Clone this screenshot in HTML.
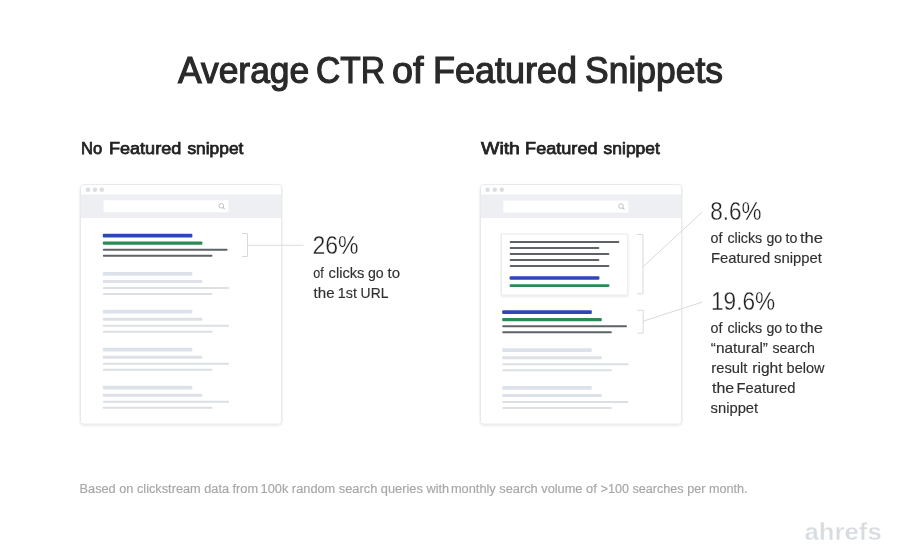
<!DOCTYPE html>
<html><head><meta charset="utf-8">
<style>
html,body{margin:0;padding:0;background:#fff;width:900px;height:556px;overflow:hidden}
svg{display:block;will-change:transform}
text{font-family:"Liberation Sans",sans-serif}
</style></head>
<body>
<svg width="900" height="556" viewBox="0 0 900 556">
<defs>
  <filter id="sh" x="-10%" y="-10%" width="120%" height="130%">
    <feGaussianBlur in="SourceAlpha" stdDeviation="1.2"/>
    <feOffset dy="1" result="b"/>
    <feComponentTransfer><feFuncA type="linear" slope="0.12"/></feComponentTransfer>
    <feMerge><feMergeNode/><feMergeNode in="SourceGraphic"/></feMerge>
  </filter>
  <g id="srch">
    <circle cx="0" cy="0" r="2.3" fill="none" stroke="#bfc2c6" stroke-width="1"/>
    <line x1="1.6" y1="1.6" x2="3.4" y2="3.4" stroke="#bfc2c6" stroke-width="1.1"/>
  </g>
  <g id="grp">
    <rect x="0" y="0" width="89.6" height="3.8" rx="1" fill="#dde2ea"/>
    <rect x="0" y="8" width="99.6" height="3" rx="1" fill="#dee1e7"/>
    <rect x="0" y="15" width="126.3" height="2" rx="1" fill="#dcdfe3"/>
    <rect x="0" y="21" width="109.7" height="2" rx="1" fill="#dcdfe3"/>
  </g>
  <g id="res">
    <rect x="0" y="0" width="89.6" height="3.8" rx="1" fill="#2d47b8"/>
    <rect x="0" y="7.8" width="99.6" height="3.2" rx="1" fill="#2a8c55"/>
    <rect x="0" y="15" width="124.8" height="2" rx="1" fill="#5f6367"/>
    <rect x="0" y="21" width="109.7" height="2" rx="1" fill="#5f6367"/>
  </g>
</defs>

<!-- Title -->

<!-- Headings -->

<!-- LEFT BROWSER -->
<g filter="url(#sh)">
  <rect x="80.5" y="184.5" width="201" height="239.5" rx="3" fill="#fff" stroke="#e9eaec" stroke-width="1"/>
</g>
<rect x="81" y="194.5" width="200" height="23.5" fill="#edeff2"/>
<circle cx="88" cy="189.7" r="2.2" fill="#dadcdf"/>
<circle cx="95" cy="189.7" r="2.2" fill="#dadcdf"/>
<circle cx="101.8" cy="189.7" r="2.2" fill="#dadcdf"/>
<rect x="103.6" y="200.2" width="125" height="12" fill="#fff"/>
<use href="#srch" x="221.3" y="205.8"/>

<use href="#res" x="102.8" y="233.8"/>
<use href="#grp" x="102.8" y="271.9"/>
<use href="#grp" x="102.8" y="309.7"/>
<use href="#grp" x="102.8" y="347.7"/>
<use href="#grp" x="102.8" y="385.7"/>

<!-- left bracket + connector -->
<path d="M242 233.5 H247.5 V256.5 H242" fill="none" stroke="#d8d9db" stroke-width="1"/>
<line x1="247.5" y1="245.3" x2="303.5" y2="245.3" stroke="#dcdddf" stroke-width="1"/>

<!-- left stats -->

<!-- RIGHT BROWSER -->
<g filter="url(#sh)">
  <rect x="480.5" y="184.5" width="201" height="239.5" rx="3" fill="#fff" stroke="#e9eaec" stroke-width="1"/>
</g>
<rect x="481" y="194.5" width="200" height="23.5" fill="#edeff2"/>
<circle cx="487.6" cy="189.7" r="2.2" fill="#dadcdf"/>
<circle cx="494.8" cy="189.7" r="2.2" fill="#dadcdf"/>
<circle cx="501.8" cy="189.7" r="2.2" fill="#dadcdf"/>
<rect x="503.3" y="200.6" width="125" height="12" fill="#fff"/>
<use href="#srch" x="621" y="206.1"/>

<!-- featured card -->
<g filter="url(#sh)">
  <rect x="501.5" y="234" width="126.2" height="61" fill="#fff" stroke="#ebebeb" stroke-width="1"/>
</g>
<rect x="509.6" y="241.1" width="109.7" height="2" rx="1" fill="#5f6367"/>
<rect x="509.6" y="247.1" width="89.8" height="2" rx="1" fill="#5f6367"/>
<rect x="509.6" y="253.1" width="99.8" height="2" rx="1" fill="#5f6367"/>
<rect x="509.6" y="259.1" width="89.8" height="2" rx="1" fill="#5f6367"/>
<rect x="509.6" y="265.1" width="99.8" height="2" rx="1" fill="#5f6367"/>
<rect x="509.6" y="276.2" width="89.8" height="3.6" rx="1" fill="#2d47b8"/>
<rect x="509.6" y="284.2" width="99.8" height="2.8" rx="1" fill="#2a8c55"/>

<use href="#res" x="502.2" y="310.3"/>
<use href="#grp" x="502.2" y="348.2"/>
<use href="#grp" x="502.2" y="386"/>

<!-- right brackets + connectors -->
<path d="M637 234.5 H643 V293.8 H637" fill="none" stroke="#d8d9db" stroke-width="1"/>
<line x1="643" y1="266.8" x2="702" y2="212.2" stroke="#d9dadc" stroke-width="1"/>
<path d="M637.5 310.3 H643.2 V333.2 H637.5" fill="none" stroke="#d8d9db" stroke-width="1"/>
<line x1="643.2" y1="321.2" x2="702.4" y2="302" stroke="#d9dadc" stroke-width="1"/>

<!-- right stats -->


<!-- footer -->

<!-- logo -->

<text x="177.97" y="83.3" font-size="36.5" fill="#2a2a2a" stroke="#2a2a2a" stroke-width="1.15" textLength="131.29" lengthAdjust="spacingAndGlyphs">Average</text>
<text x="316.08" y="83.3" font-size="36.5" fill="#2a2a2a" stroke="#2a2a2a" stroke-width="1.15" textLength="68.85" lengthAdjust="spacingAndGlyphs">CTR</text>
<text x="391.97" y="83.3" font-size="36.5" fill="#2a2a2a" stroke="#2a2a2a" stroke-width="1.15" textLength="31.47" lengthAdjust="spacingAndGlyphs">of</text>
<text x="433.02" y="83.3" font-size="36.5" fill="#2a2a2a" stroke="#2a2a2a" stroke-width="1.15" textLength="144.04" lengthAdjust="spacingAndGlyphs">Featured</text>
<text x="585.02" y="83.3" font-size="36.5" fill="#2a2a2a" stroke="#2a2a2a" stroke-width="1.15" textLength="137.99" lengthAdjust="spacingAndGlyphs">Snippets</text>
<text x="81.04" y="154.3" font-size="17" fill="#222" stroke="#222" stroke-width="0.75" textLength="21.11" lengthAdjust="spacingAndGlyphs">No</text>
<text x="108.93" y="154.3" font-size="17" fill="#222" stroke="#222" stroke-width="0.75" textLength="72.38" lengthAdjust="spacingAndGlyphs">Featured</text>
<text x="187.4" y="154.3" font-size="17" fill="#222" stroke="#222" stroke-width="0.75" textLength="56.02" lengthAdjust="spacingAndGlyphs">snippet</text>
<text x="481.0" y="154.3" font-size="17" fill="#222" stroke="#222" stroke-width="0.75" textLength="38.95" lengthAdjust="spacingAndGlyphs">With</text>
<text x="525.13" y="154.3" font-size="17" fill="#222" stroke="#222" stroke-width="0.75" textLength="72.38" lengthAdjust="spacingAndGlyphs">Featured</text>
<text x="603.6" y="154.3" font-size="17" fill="#222" stroke="#222" stroke-width="0.75" textLength="56.22" lengthAdjust="spacingAndGlyphs">snippet</text>
<text x="312.46" y="253.6" font-size="25" fill="#222" stroke="#fff" stroke-width="0.3" textLength="46.08" lengthAdjust="spacingAndGlyphs">26%</text>
<text x="313.2" y="277.5" font-size="14.5" fill="#303030" stroke="#303030" stroke-width="0.15" textLength="10.48" lengthAdjust="spacingAndGlyphs">of</text>
<text x="328.6" y="277.5" font-size="14.5" fill="#303030" stroke="#303030" stroke-width="0.15" textLength="35.86" lengthAdjust="spacingAndGlyphs">clicks</text>
<text x="368.0" y="277.5" font-size="14.5" fill="#303030" stroke="#303030" stroke-width="0.15" textLength="15.74" lengthAdjust="spacingAndGlyphs">go</text>
<text x="387.6" y="277.5" font-size="14.5" fill="#303030" stroke="#303030" stroke-width="0.15" textLength="12.5" lengthAdjust="spacingAndGlyphs">to</text>
<text x="313.6" y="297.6" font-size="14.5" fill="#303030" stroke="#303030" stroke-width="0.15" textLength="20.98" lengthAdjust="spacingAndGlyphs">the</text>
<text x="337.81" y="297.6" font-size="14.5" fill="#303030" stroke="#303030" stroke-width="0.15" textLength="19.14" lengthAdjust="spacingAndGlyphs">1st</text>
<text x="360.62" y="297.6" font-size="14.5" fill="#303030" stroke="#303030" stroke-width="0.15" textLength="27.77" lengthAdjust="spacingAndGlyphs">URL</text>
<text x="710.29" y="219.6" font-size="25" fill="#222" stroke="#fff" stroke-width="0.3" textLength="51.18" lengthAdjust="spacingAndGlyphs">8.6%</text>
<text x="710.6" y="242.5" font-size="14.5" fill="#303030" stroke="#303030" stroke-width="0.15" textLength="11.89" lengthAdjust="spacingAndGlyphs">of</text>
<text x="727.4" y="242.5" font-size="14.5" fill="#303030" stroke="#303030" stroke-width="0.15" textLength="34.85" lengthAdjust="spacingAndGlyphs">clicks</text>
<text x="766.4" y="242.5" font-size="14.5" fill="#303030" stroke="#303030" stroke-width="0.15" textLength="15.74" lengthAdjust="spacingAndGlyphs">go</text>
<text x="785.6" y="242.5" font-size="14.5" fill="#303030" stroke="#303030" stroke-width="0.15" textLength="11.89" lengthAdjust="spacingAndGlyphs">to</text>
<text x="800.0" y="242.5" font-size="14.5" fill="#303030" stroke="#303030" stroke-width="0.15" textLength="23.0" lengthAdjust="spacingAndGlyphs">the</text>
<text x="710.97" y="262.5" font-size="14.5" fill="#303030" stroke="#303030" stroke-width="0.15" textLength="59.29" lengthAdjust="spacingAndGlyphs">Featured</text>
<text x="774.0" y="262.5" font-size="14.5" fill="#303030" stroke="#303030" stroke-width="0.15" textLength="47.76" lengthAdjust="spacingAndGlyphs">snippet</text>
<text x="710.98" y="309.6" font-size="25" fill="#222" stroke="#fff" stroke-width="0.3" textLength="64.22" lengthAdjust="spacingAndGlyphs">19.6%</text>
<text x="710.6" y="332.5" font-size="14.5" fill="#303030" stroke="#303030" stroke-width="0.15" textLength="11.89" lengthAdjust="spacingAndGlyphs">of</text>
<text x="727.4" y="332.5" font-size="14.5" fill="#303030" stroke="#303030" stroke-width="0.15" textLength="34.85" lengthAdjust="spacingAndGlyphs">clicks</text>
<text x="766.4" y="332.5" font-size="14.5" fill="#303030" stroke="#303030" stroke-width="0.15" textLength="15.74" lengthAdjust="spacingAndGlyphs">go</text>
<text x="785.6" y="332.5" font-size="14.5" fill="#303030" stroke="#303030" stroke-width="0.15" textLength="11.89" lengthAdjust="spacingAndGlyphs">to</text>
<text x="800.0" y="332.5" font-size="14.5" fill="#303030" stroke="#303030" stroke-width="0.15" textLength="23.0" lengthAdjust="spacingAndGlyphs">the</text>
<text x="710.8" y="352.5" font-size="14.5" fill="#303030" stroke="#303030" stroke-width="0.15" textLength="57.2" lengthAdjust="spacingAndGlyphs">“natural”</text>
<text x="772.4" y="352.5" font-size="14.5" fill="#303030" stroke="#303030" stroke-width="0.15" textLength="42.52" lengthAdjust="spacingAndGlyphs">search</text>
<text x="711.36" y="372.5" font-size="14.5" fill="#303030" stroke="#303030" stroke-width="0.15" textLength="36.08" lengthAdjust="spacingAndGlyphs">result</text>
<text x="752.33" y="372.5" font-size="14.5" fill="#303030" stroke="#303030" stroke-width="0.15" textLength="30.23" lengthAdjust="spacingAndGlyphs">right</text>
<text x="786.57" y="372.5" font-size="14.5" fill="#303030" stroke="#303030" stroke-width="0.15" textLength="37.89" lengthAdjust="spacingAndGlyphs">below</text>
<text x="712.0" y="392.5" font-size="14.5" fill="#303030" stroke="#303030" stroke-width="0.15" textLength="22.19" lengthAdjust="spacingAndGlyphs">the</text>
<text x="736.58" y="392.5" font-size="14.5" fill="#303030" stroke="#303030" stroke-width="0.15" textLength="58.88" lengthAdjust="spacingAndGlyphs">Featured</text>
<text x="710.6" y="412.5" font-size="14.5" fill="#303030" stroke="#303030" stroke-width="0.15" textLength="47.56" lengthAdjust="spacingAndGlyphs">snippet</text>
<text x="79.56" y="493.4" font-size="12.3" fill="#a6a6a6" stroke="#a6a6a6" stroke-width="0.15" textLength="178.52" lengthAdjust="spacingAndGlyphs">Based on clickstream data from</text>
<text x="260.56" y="493.4" font-size="12.3" fill="#a6a6a6" stroke="#a6a6a6" stroke-width="0.15" textLength="188.63" lengthAdjust="spacingAndGlyphs">100k random search queries with</text>
<text x="450.96" y="493.4" font-size="12.3" fill="#a6a6a6" stroke="#a6a6a6" stroke-width="0.15" textLength="145.77" lengthAdjust="spacingAndGlyphs">monthly search volume of</text>
<text x="600.57" y="493.4" font-size="12.3" fill="#a6a6a6" stroke="#a6a6a6" stroke-width="0.15" textLength="146.88" lengthAdjust="spacingAndGlyphs">&gt;100 searches per month.</text>
<text x="804.5" y="540.2" font-size="23.5" fill="#d8dce0" font-weight="bold" stroke="#fff" stroke-width="0.3" textLength="77.19" lengthAdjust="spacingAndGlyphs">ahrefs</text>
</svg>
</body></html>
